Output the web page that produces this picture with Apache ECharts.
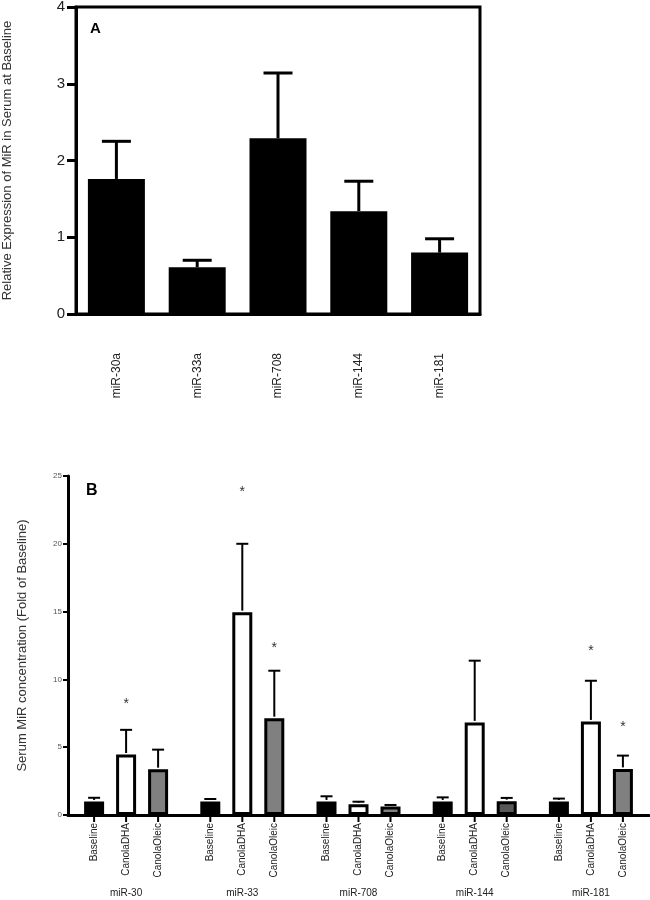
<!DOCTYPE html>
<html><head><meta charset="utf-8">
<script src="https://cdn.jsdelivr.net/npm/echarts@6/dist/echarts.min.js"></script>
<style>html,body{margin:0;padding:0;background:#fff}#c{width:650px;height:900px}</style>
</head><body><div id="c"></div>
<script>
// Panel A data
const catsA = ['miR-30a','miR-33a','miR-708','miR-144','miR-181'];
const meanA = [1.76, 0.61, 2.29, 1.34, 0.80];
const errA  = [2.25, 0.70, 3.14, 1.73, 0.98];
const ticksA = [0,1,2,3,4];

// Panel B data
const catsB = ['miR-30','miR-33','miR-708','miR-144','miR-181'];
const seriesB = ['Baseline','CanolaDHA','CanolaOleic'];
const baseMean = [1.0, 1.0, 1.0, 1.0, 1.0];
const baseErr  = [1.27, 1.18, 1.38, 1.30, 1.21];
const dhaMean  = [4.46, 14.96, 0.80, 6.83, 6.90];
const dhaErr   = [6.28, 20.0, 0.98, 11.38, 9.90];
const oleMean  = [3.38, 7.14, 0.62, 1.02, 3.40];
const oleErr   = [4.82, 10.64, 0.74, 1.26, 4.38];
const dhaStar  = [8.4, 24.0, null, null, 12.3];
const oleStar  = [null, 12.5, null, null, 6.7];
const ticksB = [0,5,10,15,20,25];

const FONT = 'Liberation Sans, Arial, sans-serif';
const chart = echarts.init(document.getElementById('c'));

const BW = 20, STEP = 32;
const meansB = [baseMean, dhaMean, oleMean];
const errsB = [baseErr, dhaErr, oleErr];
const starsB = [null, dhaStar, oleStar];
const oleColors = ['#808080','#808080','#808080','#585858','#808080'];

const errDataA = catsA.map((c,i)=>[i, meanA[i], errA[i]]);
const errDataB = [];
for (let k=0;k<3;k++) for (let i=0;i<5;i++) {
  errDataB.push([i, k, meansB[k][i], errsB[k][i], starsB[k] ? starsB[k][i] : null]);
}

chart.setOption({
  animation:false,
  textStyle:{fontFamily:FONT},
  grid:[
    {left:76, top:7, width:404, height:307, show:true, borderColor:'#000', borderWidth:3, backgroundColor:'transparent', containLabel:false, outerBoundsMode:'none'},
    {left:68, top:476, width:581, height:339, containLabel:false, outerBoundsMode:'none'}
  ],
  xAxis:[
    {gridIndex:0, type:'category', data:catsA,
     axisLine:{lineStyle:{color:'#000', width:3}},
     axisTick:{alignWithLabel:true, length:12, lineStyle:{color:'#000', width:3}},
     axisLabel:{rotate:90, margin:39, fontSize:12, color:'#222', fontFamily:FONT}},
    {gridIndex:1, type:'category', data:catsB,
     axisLine:{lineStyle:{color:'#000', width:3}},
     axisTick:{show:false},
     axisLabel:{margin:73, fontSize:10, color:'#222', fontFamily:FONT}}
  ],
  yAxis:[
    {gridIndex:0, type:'value', min:ticksA[0], max:ticksA[ticksA.length-1], interval:1,
     name:'Relative Expression of MiR in Serum at Baseline', nameLocation:'middle', nameGap:62, nameRotate:90,
     nameTextStyle:{fontSize:13, color:'#333', fontFamily:FONT},
     axisLine:{show:true, lineStyle:{color:'#000', width:3}},
     axisTick:{show:true, length:9, lineStyle:{color:'#000', width:3}},
     splitLine:{show:false},
     axisLabel:{fontSize:15, color:'#222', margin:11, fontFamily:FONT}},
    {gridIndex:1, type:'value', min:ticksB[0], max:ticksB[ticksB.length-1], interval:5,
     name:'Serum MiR concentration (Fold of Baseline)', nameLocation:'middle', nameGap:39, nameRotate:90,
     nameTextStyle:{fontSize:13, color:'#333', fontFamily:FONT},
     axisLine:{show:true, lineStyle:{color:'#000', width:3}},
     axisTick:{show:true, length:5, lineStyle:{color:'#000', width:2}},
     splitLine:{show:false},
     axisLabel:{fontSize:8, color:'#555', margin:6, fontFamily:FONT}}
  ],
  graphic:[
    {type:'text', left:90, top:21, style:{text:'A', font:'bold 15px '+FONT, fill:'#000'}},
    {type:'text', left:86, top:483, style:{text:'B', font:'bold 16px '+FONT, fill:'#000'}}
  ],
  series:[
    {type:'bar', xAxisIndex:0, yAxisIndex:0, data:meanA, barWidth:57,
     itemStyle:{color:'#000'}, z:2},
    {type:'custom', xAxisIndex:0, yAxisIndex:0, data:errDataA, z:3,
     renderItem:function(params, api){
       const top = api.coord([api.value(0), api.value(2)]);
       const bot = api.coord([api.value(0), api.value(1)]);
       const x = top[0];
       return {type:'group', children:[
         {type:'line', shape:{x1:x, y1:bot[1], x2:x, y2:top[1]}, style:{stroke:'#000', lineWidth:3}},
         {type:'line', shape:{x1:x-14.5, y1:top[1], x2:x+14.5, y2:top[1]}, style:{stroke:'#000', lineWidth:3}}
       ]};
     }},
    {name:seriesB[0], type:'bar', xAxisIndex:1, yAxisIndex:1, data:baseMean, barWidth:BW, barGap:'60%',
     itemStyle:{color:'#000', borderColor:'#000', borderWidth:3}},
    {name:seriesB[1], type:'bar', xAxisIndex:1, yAxisIndex:1, data:dhaMean, barWidth:BW, barGap:'60%',
     itemStyle:{color:'#fff', borderColor:'#000', borderWidth:3}},
    {name:seriesB[2], type:'bar', xAxisIndex:1, yAxisIndex:1,
     data:oleMean.map((v,i)=>({value:v, itemStyle:{color:oleColors[i]}})), barWidth:BW, barGap:'60%',
     itemStyle:{color:'#808080', borderColor:'#000', borderWidth:3}},
    {type:'custom', xAxisIndex:1, yAxisIndex:1, data:errDataB, z:3,
     renderItem:function(params, api){
       const cat = api.value(0), k = api.value(1);
       const off = (k-1)*STEP;
       const top = api.coord([cat, api.value(3)]);
       const bot = api.coord([cat, api.value(2)]);
       const zero = api.coord([cat, 0]);
       const x = top[0] + off;
       const ch = [
         {type:'line', shape:{x1:x, y1:bot[1]-1.5, x2:x, y2:top[1]}, style:{stroke:'#000', lineWidth:2}},
         {type:'line', shape:{x1:x-6, y1:top[1], x2:x+6, y2:top[1]}, style:{stroke:'#000', lineWidth:2}},
         {type:'line', shape:{x1:x, y1:zero[1], x2:x, y2:zero[1]+7}, style:{stroke:'#000', lineWidth:2}},
         {type:'text', x:x, y:zero[1]+8, rotation:Math.PI/2,
          style:{text:seriesB[k], font:'10px '+FONT, fill:'#222', align:'right', verticalAlign:'middle'}}
       ];
       const s = api.value(4);
       if (s !== null && s !== undefined && !isNaN(s)) {
         const sp = api.coord([cat, s]);
         ch.push({type:'text', x:x, y:sp[1]+3, style:{text:'*', font:'14px '+FONT, fill:'#333', align:'center', verticalAlign:'middle'}});
       }
       return {type:'group', children:ch};
     }}
  ]
});
</script></body></html>
